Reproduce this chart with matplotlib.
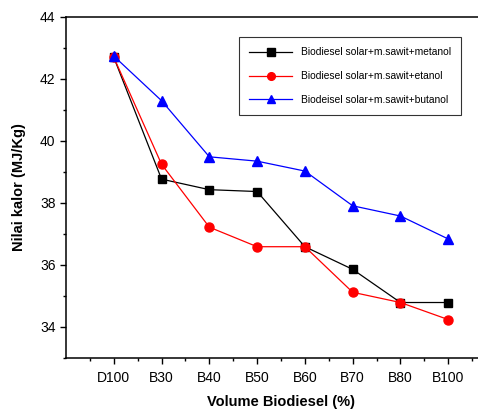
import numpy as np
import matplotlib.pyplot as plt

plt.rcParams['font.family'] = ['Liberation Sans', 'DejaVu Sans']

# Calorific value per blend
categories = ['D100', 'B30', 'B40', 'B50', 'B60', 'B70', 'B80', 'B100']
metanol = [42.70, 38.77, 38.43, 38.37, 36.59, 35.86, 34.79, 34.79]
etanol = [42.70, 39.25, 37.22, 36.59, 36.59, 35.12, 34.79, 34.24]
butanol = [42.74, 41.30, 39.49, 39.35, 39.03, 37.91, 37.58, 36.84]

labels = ['Biodiesel solar+m.sawit+metanol',
          'Biodiesel solar+m.sawit+etanol',
          'Biodeisel solar+m.sawit+butanol']

x = np.arange(1, len(categories) + 1)

fig = plt.figure(figsize=(4.78, 4.09), dpi=100)
# axes run past the right edge of the figure, like the reference crop
ax = fig.add_axes([66 / 478, 1 - 358 / 409, 430 / 478, 341 / 409])

ax.plot(x, metanol, '-s', color='black', lw=0.9, ms=6, label=labels[0])
ax.plot(x, etanol, '-o', color='red', lw=0.9, ms=6.5, label=labels[1])
ax.plot(x, butanol, '-^', color='blue', lw=0.9, ms=7, label=labels[2])

ax.set_xlim(0, 9)
ax.set_ylim(33, 44)
ax.set_xticks(x)
ax.set_xticklabels(categories)
ax.set_xticks(np.arange(0.5, 9, 1), minor=True)
ax.set_yticks([34, 36, 38, 40, 42, 44])
ax.set_yticks([33, 35, 37, 39, 41, 43], minor=True)
ax.tick_params(axis='both', which='major', direction='out', length=4.5, width=1,
               labelsize=10, pad=3)
ax.tick_params(axis='x', which='major', pad=5)
ax.tick_params(axis='both', which='minor', direction='out', length=2.5, width=1)
for s in ax.spines.values():
    s.set_linewidth(1.1)

ax.set_xlabel('Volume Biodiesel (%)', fontsize=10.5, fontweight='bold', labelpad=7)
ax.set_ylabel('Nilai kalor (MJ/Kg)', fontsize=10.5, fontweight='bold', labelpad=10)

leg = ax.legend(loc='upper left', bbox_to_anchor=((239 - 66) / 430, (358 - 37) / 341),
                borderaxespad=0, fontsize=7.4, frameon=True, fancybox=False,
                edgecolor='black', handlelength=4.2, borderpad=1.0,
                labelspacing=1.35, markerscale=0.85)
leg.get_frame().set_linewidth(0.8)

fig.savefig('out.png', dpi=100)
